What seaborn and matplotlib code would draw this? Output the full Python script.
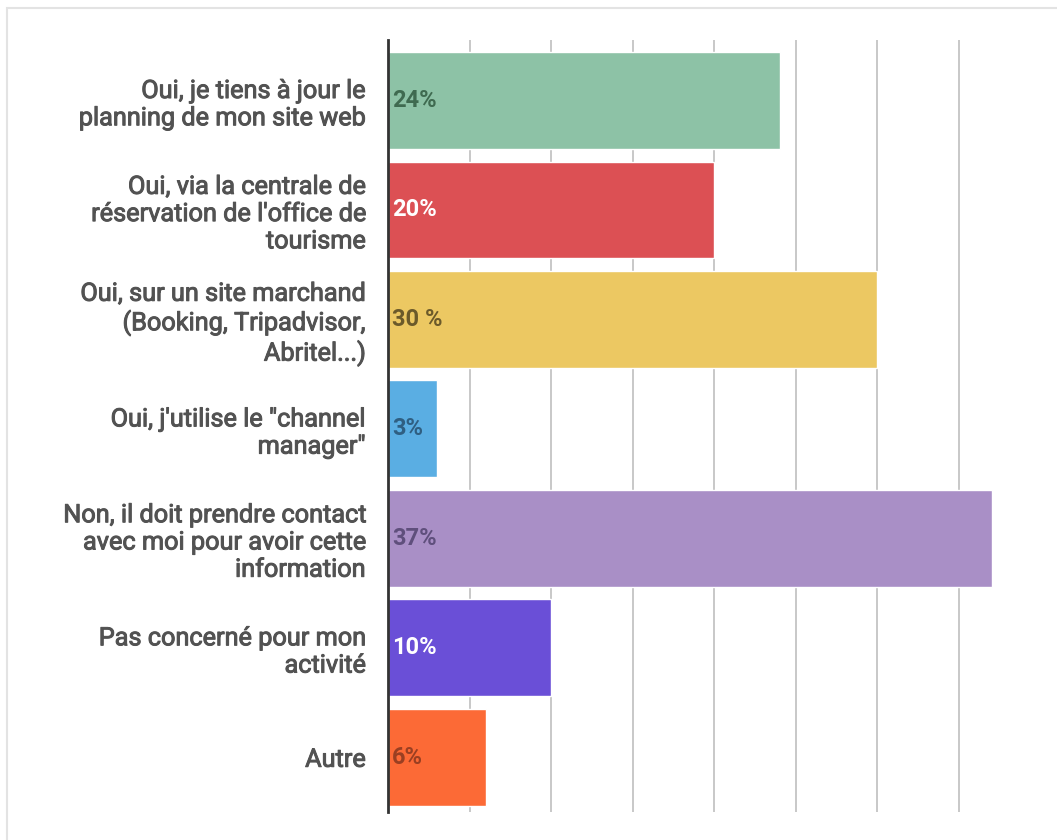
import matplotlib
matplotlib.use("Agg")
import matplotlib.pyplot as plt
import matplotlib.patheffects as pe
from matplotlib.patches import Rectangle
import seaborn as sns
import pandas as pd

# Survey answers (one bar per answer)
categories = [
    "Oui, je tiens à jour le\nplanning de mon site web",
    "Oui, via la centrale de\nréservation de l'office de\ntourisme",
    "Oui, sur un site marchand\n(Booking, Tripadvisor,\nAbritel...)",
    "Oui, j'utilise le \"channel\nmanager\"",
    "Non, il doit prendre contact\navec moi pour avoir cette\ninformation",
    "Pas concerné pour mon\nactivité",
    "Autre",
]
values = [24, 20, 30, 3, 37, 10, 6]
value_labels = ["24%", "20%", "30 %", "3%", "37%", "10%", "6%"]

bar_colors = ["#8dc2a6", "#dc5054", "#ecc862", "#5aaee3", "#a98fc6", "#6a4fd7", "#fc6a36"]
label_colors = ["#3f6a50", "#ffffff", "#6b5a2a", "#2f5f82", "#5f4f7c", "#ffffff", "#9a3f22"]

df = pd.DataFrame({"answer": categories, "pct": values})

sns.set_theme(style="white")
plt.rcParams["font.family"] = ["Roboto", "DejaVu Sans"]

fig = plt.figure(figsize=(10.57, 8.4), dpi=100)
ax = fig.add_axes([388 / 1057, 1 - 812 / 840, (1008 - 388) / 1057, (812 - 40) / 840])

sns.barplot(data=df, y="answer", x="pct", hue="answer", palette=bar_colors,
            order=categories, hue_order=categories, orient="h",
            width=0.885, legend=False, ax=ax, saturation=1, zorder=2)

ax.set_xlim(0, 38)
ax.set_ylim(6.5, -0.553)
ax.set_xticks([5, 10, 15, 20, 25, 30, 35])
ax.grid(axis="x", color="#c8c8c8", linewidth=1.4, zorder=0)
ax.grid(axis="y", visible=False)
ax.set_axisbelow(True)
ax.tick_params(axis="x", length=0, labelbottom=False)
ax.tick_params(axis="y", length=0, pad=16)
ax.set_xlabel("")
ax.set_ylabel("")
for side in ["top", "right", "bottom"]:
    ax.spines[side].set_visible(False)
ax.spines["left"].set_color("#333333")
ax.spines["left"].set_linewidth(2)
ax.spines["left"].set_zorder(3)

# medium-weight category labels: regular face with a thin outline
for lbl in ax.get_yticklabels():
    lbl.set_fontsize(18.2)
    lbl.set_fontweight("normal")
    lbl.set_color("#525252")
    lbl.set_linespacing(1.17)
    lbl.set_horizontalalignment("right")
    lbl.set_multialignment("right")
    lbl.set_path_effects([pe.withStroke(linewidth=0.7, foreground="#525252")])

for i, (txt, col) in enumerate(zip(value_labels, label_colors)):
    ax.text(0.25, i, txt, ha="left", va="center", fontsize=17,
            fontweight="bold", color=col, zorder=4)

# light frame around the card
fig.patches.append(Rectangle((7 / 1057, -0.05), 1.1, 1 - 8 / 840 + 0.05,
                             transform=fig.transFigure, fill=False,
                             edgecolor="#e3e3e3", linewidth=1.5))

fig.savefig("out.png", dpi=100)
